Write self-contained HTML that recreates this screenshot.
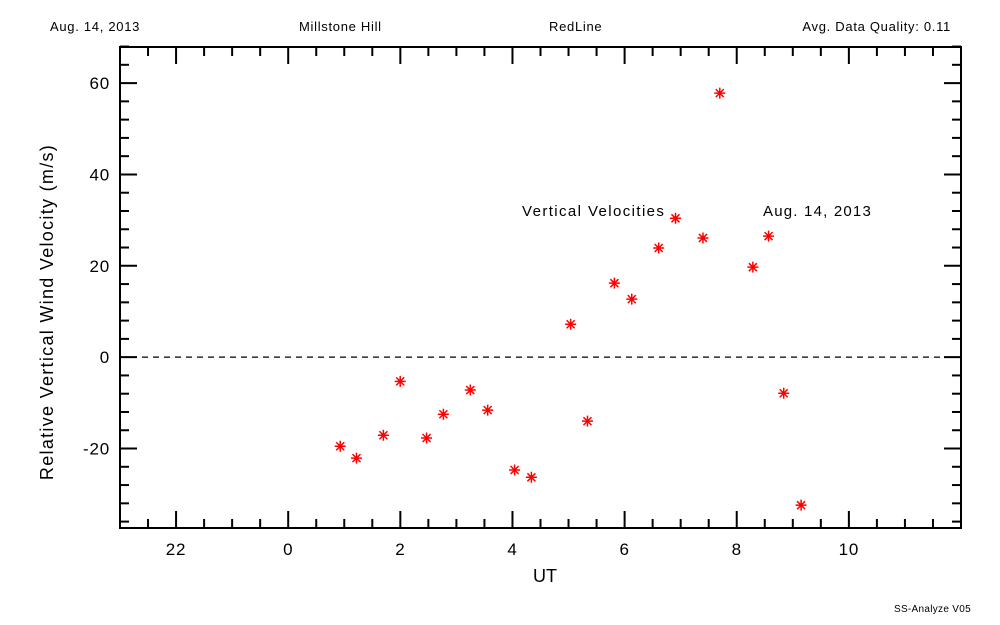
<!DOCTYPE html>
<html><head><meta charset="utf-8"><style>
body{margin:0;background:#fff}
svg{display:block;font-family:"Liberation Sans",sans-serif}
</style></head><body>
<svg id="c" width="1000" height="625" viewBox="0 0 1000 625">
<g font-size="13" fill="#000" letter-spacing="0.7">
<text x="50" y="31">Aug. 14, 2013</text>
<text x="299" y="31">Millstone Hill</text>
<text x="549" y="31">RedLine</text>
<text x="951" y="31" text-anchor="end">Avg. Data Quality: 0.11</text>
<text x="971" y="612" text-anchor="end" font-size="10" letter-spacing="0.3">SS-Analyze V05</text>
</g>
<rect x="120" y="47" width="841" height="481" fill="none" stroke="#000" stroke-width="2"/>
<g id="ticks" stroke="#000" stroke-width="2"></g>
<g id="labels" font-size="17" fill="#000" letter-spacing="0.8"></g>
<line id="zero" stroke="#000" stroke-dasharray="6,5" stroke-width="1.3"/>
<text x="545" y="582" font-size="18" text-anchor="middle">UT</text>
<text transform="translate(53,312) rotate(-90)" font-size="18" letter-spacing="1.3" text-anchor="middle">Relative Vertical Wind Velocity (m/s)</text>
<text x="522" y="216" font-size="15" letter-spacing="1.4">Vertical Velocities</text>
<text x="763" y="216" font-size="15" letter-spacing="1.2">Aug. 14, 2013</text>
<g id="pts" stroke="#f00" stroke-width="1.5"></g>
</svg>
<script>
const ut=[0.91,1.2,1.68,1.98,2.45,2.75,3.23,3.54,4.02,4.32,5.02,5.32,5.80,6.11,6.59,6.89,7.38,7.68,8.27,8.55,8.82,9.13];
const vel=[-19.5,-22.1,-17.1,-5.3,-17.7,-12.5,-7.2,-11.6,-24.7,-26.3,7.2,-14.0,16.2,12.7,23.9,30.4,26.1,57.8,19.7,26.5,-7.9,-32.4];
const xTicks=[-2,0,2,4,6,8,10];
const xTickLabels=["22","0","2","4","6","8","10"];
const yTicks=[-20,0,20,40,60];
const NS="http://www.w3.org/2000/svg";
const X0=-3,X1=12,Y0=-37.4,Y1=67.9,L=120,R=961,T=47,B=528;
const sx=v=>L+(v-X0)/(X1-X0)*(R-L);
const sy=v=>B-(v-Y0)/(Y1-Y0)*(B-T);
function mk(t,a,p){const e=document.createElementNS(NS,t);for(const k in a)e.setAttribute(k,a[k]);p.appendChild(e);return e;}
const tk=document.getElementById('ticks'),lb=document.getElementById('labels');
for(let v=-2.5;v<=11.5;v+=0.5){
  const maj=Math.abs(v%2)<1e-9;const x=sx(v);const len=maj?17:9;
  let e=mk('line',{x1:x,x2:x,y1:B,y2:B-len},tk);
  e=mk('line',{x1:x,x2:x,y1:T,y2:T+len},tk);
}
xTicks.forEach((v,i)=>{const t=mk('text',{x:sx(v),y:555,'text-anchor':'middle'},lb);t.textContent=xTickLabels[i];
});
for(let v=-36;v<=68;v+=4){
  const maj=v%20===0;const y=sy(v);const len=maj?17:9;
  let e=mk('line',{x1:L,x2:L+len,y1:y,y2:y},tk);
  e=mk('line',{x1:R,x2:R-len,y1:y,y2:y},tk);
}
yTicks.forEach(v=>{const t=mk('text',{x:110,y:sy(v)+6,'text-anchor':'end'},lb);t.textContent=String(v);
});
const z=document.getElementById('zero');z.setAttribute('x1',L);z.setAttribute('x2',R);z.setAttribute('y1',sy(0));z.setAttribute('y2',sy(0));
const pts=document.getElementById('pts');
ut.forEach((u,i)=>{const x=sx(u)+1,y=sy(vel[i]),r=5.5,d=4;
  const g=mk('path',{d:`M${x-r},${y}H${x+r}M${x},${y-r}V${y+r}M${x-d},${y-d}L${x+d},${y+d}M${x-d},${y+d}L${x+d},${y-d}`},pts);
  });
</script>
</body></html>
